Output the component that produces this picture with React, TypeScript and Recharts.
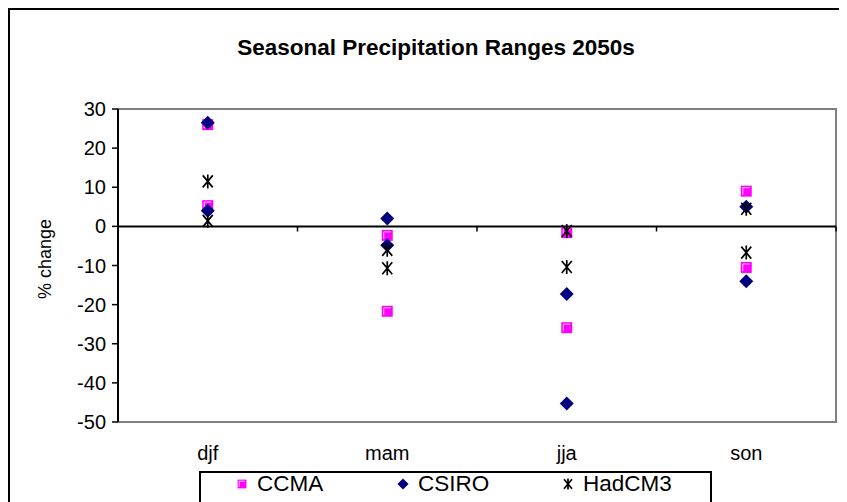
import React from 'react'
import { ScatterChart, Scatter, XAxis, YAxis, ReferenceLine, ReferenceArea } from 'recharts'

const seasons = ['djf', 'mam', 'jja', 'son']
const yTicks = [30, 20, 10, 0, -10, -20, -30, -40, -50]

// two model runs per season, % change
const ccmaValues = [[26.0, 5.3], [-2.3, -21.7], [-1.6, -25.9], [9.0, -10.5]]
const csiroValues = [[26.5, 4.0], [2.0, -4.8], [-17.3, -45.3], [5.0, -14.0]]
const hadcm3Values = [[11.5, 1.4], [-6.0, -10.7], [-1.2, -10.4], [4.5, -6.7]]

const FONT = '"Liberation Sans", Arial, sans-serif'

const toPoints = (vals: number[][]) =>
  vals.flatMap((pair, i) => pair.map((v) => ({ x: i + 0.5, y: v, season: seasons[i] })))

const ccma = toPoints(ccmaValues)
const csiro = toPoints(csiroValues)
const hadcm3 = toPoints(hadcm3Values)

function SquareMark({ cx, cy, s = 1 }: any) {
  const h = 5.5 * s
  const k = 3.5 * s
  return (
    <g>
      <rect x={cx - h} y={cy - h} width={2 * h} height={2 * h} fill="#FF00FF" />
      <path d={`M${cx - k} ${cy + k} V${cy - k} H${cx + k}`} stroke="#FFC8FF" strokeWidth={1} fill="none" />
    </g>
  )
}

function DiamondMark({ cx, cy, s = 1 }: any) {
  const r = 7 * s
  return <polygon points={`${cx},${cy - r} ${cx + r},${cy} ${cx},${cy + r} ${cx - r},${cy}`} fill="#000080" />
}

function StarMark({ cx, cy, s = 1 }: any) {
  const a = 5 * s
  const b = 6 * s
  const c = 7 * s
  return (
    <path
      d={`M${cx - a} ${cy - b} L${cx + a} ${cy + b} M${cx + a} ${cy - b} L${cx - a} ${cy + b} M${cx} ${cy - c} V${cy + c}`}
      stroke="#000"
      strokeWidth={1.7}
      fill="none"
    />
  )
}

const legendItems = [
  { name: 'CCMA', Mark: SquareMark, left: 41 },
  { name: 'CSIRO', Mark: DiamondMark, left: 202 },
  { name: 'HadCM3', Mark: StarMark, left: 367 },
]

export default function App() {
  return (
    <div
      style={{
        position: 'relative',
        width: 839,
        height: 494,
        boxSizing: 'border-box',
        borderTop: '2px solid #000',
        borderLeft: '2px solid #000',
        overflow: 'hidden',
        fontFamily: FONT,
        background: '#fff',
      }}
    >
      <div
        style={{
          position: 'absolute',
          left: 426,
          top: 25,
          transform: 'translateX(-50%)',
          whiteSpace: 'nowrap',
          fontSize: 22.5,
          fontWeight: 'bold',
        }}
      >
        Seasonal Precipitation Ranges 2050s
      </div>
      <div
        style={{
          position: 'absolute',
          left: 35,
          top: 249,
          transform: 'translate(-50%, -50%) rotate(-90deg)',
          whiteSpace: 'nowrap',
          fontSize: 18,
        }}
      >
        % change
      </div>

      <ScatterChart width={837} height={492} margin={{ top: 99, right: 11, left: 0, bottom: 40 }}>
        <ReferenceArea x1={0} x2={4} y1={-50} y2={30} stroke="#808080" strokeWidth={2} fill="none" />
        <XAxis
          type="number"
          dataKey="x"
          domain={[0, 4]}
          ticks={seasons.map((_, i) => i + 0.5)}
          tickFormatter={(v) => seasons[Math.floor(v)]}
          axisLine={false}
          tickLine={false}
          tickSize={0}
          tickMargin={24}
          height={40}
          tick={{ fontSize: 20, fill: '#000', fontFamily: FONT }}
        />
        <YAxis
          type="number"
          dataKey="y"
          domain={[-50, 30]}
          ticks={yTicks}
          width={108}
          axisLine={{ stroke: '#000', strokeWidth: 2 }}
          tickLine={{ stroke: '#000', strokeWidth: 1.5 }}
          tickSize={6}
          tickMargin={6}
          tick={{ fontSize: 20, fill: '#000', fontFamily: FONT }}
        />
        <ReferenceLine y={0} stroke="#000" strokeWidth={2} />
        {seasons.map((s, i) => (
          <ReferenceLine
            key={s}
            segment={[{ x: i + 1, y: 0 }, { x: i + 1, y: -1.3 }]}
            stroke="#000"
            strokeWidth={1.5}
          />
        ))}
        <Scatter name="CCMA" data={ccma} shape={SquareMark} isAnimationActive={false} />
        <Scatter name="CSIRO" data={csiro} shape={DiamondMark} isAnimationActive={false} />
        <Scatter name="HadCM3" data={hadcm3} shape={StarMark} isAnimationActive={false} />
      </ScatterChart>

      <div
        style={{
          position: 'absolute',
          left: 189,
          top: 461,
          width: 513,
          height: 60,
          boxSizing: 'border-box',
          border: '2px solid #000',
        }}
      >
        {legendItems.map(({ name, Mark, left }) => (
          <div
            key={name}
            style={{ position: 'absolute', left: left - 8, top: 0, height: 22, display: 'flex', alignItems: 'center', fontSize: 22.5 }}
          >
            <svg width={16} height={16} style={{ marginRight: 7 }}>
              <Mark cx={8} cy={8} s={0.8} />
            </svg>
            <span style={{ lineHeight: '22px' }}>{name}</span>
          </div>
        ))}
      </div>
    </div>
  )
}
